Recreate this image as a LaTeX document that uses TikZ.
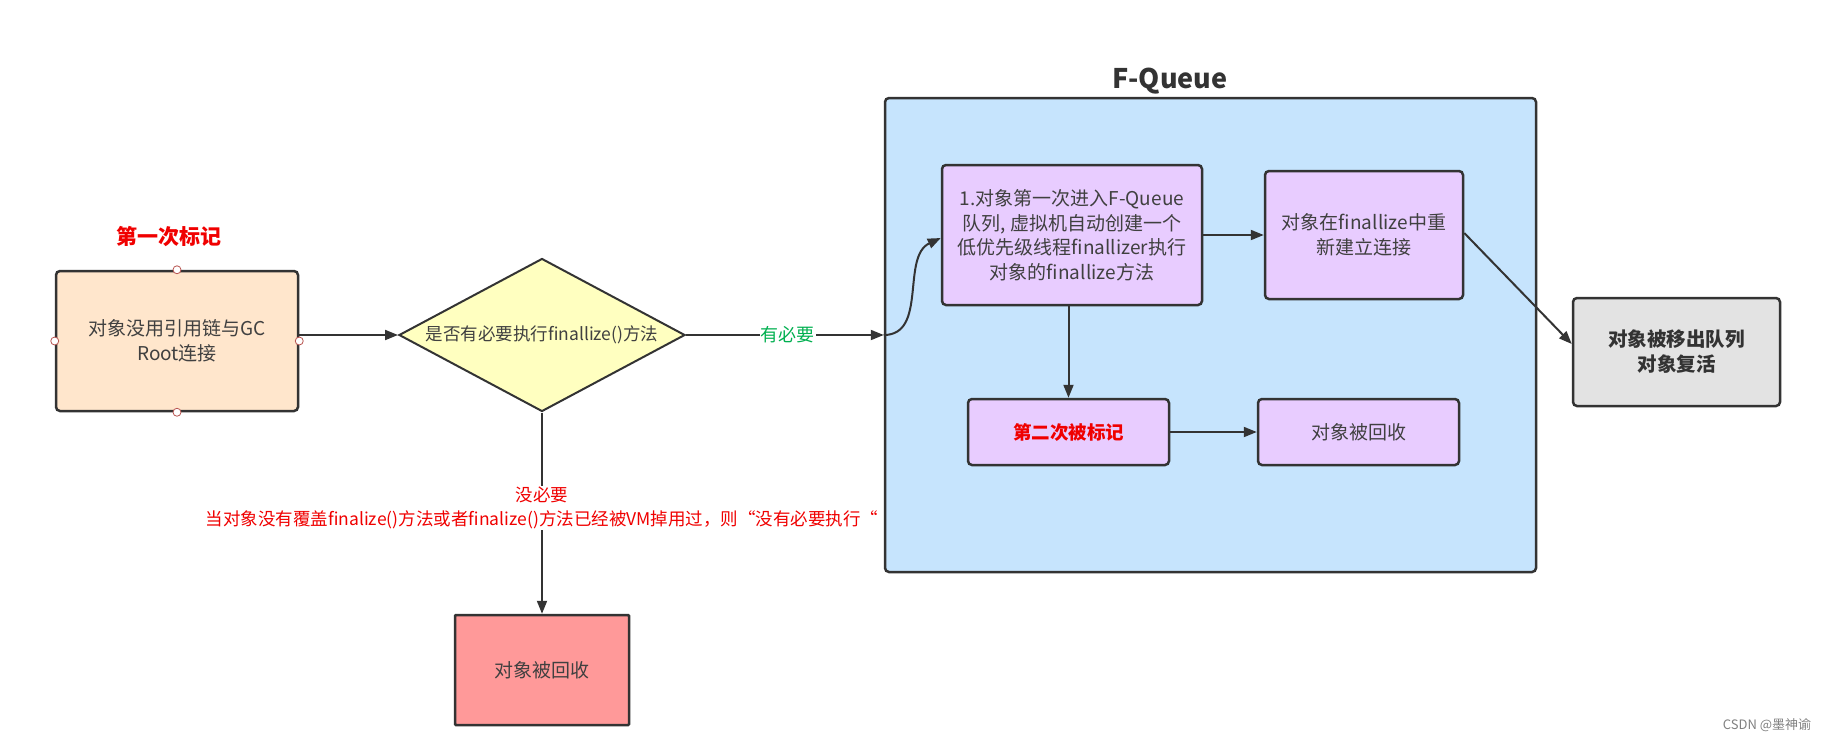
\documentclass[tikz,border=0pt]{standalone}
\usepackage{fontspec}
\setmainfont{Noto Sans CJK SC}
\usetikzlibrary{shapes.geometric,arrows.meta}
\definecolor{edge}{HTML}{333333}
\definecolor{txt}{HTML}{404040}
\definecolor{peach}{HTML}{FFE6CC}
\definecolor{lemon}{HTML}{FFFFC0}
\definecolor{fqblue}{HTML}{C6E4FD}
\definecolor{lilac}{HTML}{E8CCFF}
\definecolor{ashgray}{HTML}{E3E3E3}
\definecolor{salmon}{HTML}{FF9999}
\definecolor{mark}{HTML}{F00000}
\definecolor{yes}{HTML}{00B050}
\definecolor{handle}{HTML}{B85450}

\begin{document}
\begin{tikzpicture}
[x=1pt,y=-1pt,%
  every node/.style={font=\fontsize{19}{24.5}\selectfont,text=txt,align=center},%
  box/.style={rectangle,rounded corners=4pt,draw=edge,line width=2.5pt},%
  link/.style={draw=edge,line width=2pt,-{Triangle[length=13pt,width=10pt]}},%
  handle/.style={circle,draw=handle,fill=white,line width=0.8pt,inner sep=0pt,minimum size=8pt}]
\useasboundingbox (0,0) rectangle (1824,740);
\node[box,fill=fqblue,minimum width=651pt,minimum height=474pt] (fq) at (1210.5,335) {};
\node[text=edge,font=\fontsize{27}{30}\selectfont\bfseries] (fqtitle) at (1170,81) {F-Queue};
\node[text=mark,font=\fontsize{21}{24}\selectfont\bfseries] (mark1) at (169,237) {第一次标记};
\node[box,fill=peach,minimum width=242pt,minimum height=140pt] (src) at (177,341)
  {对象没用引用链与GC\\Root连接};
\foreach \a in {north,south,east,west}
  \node[handle] (h-\a) at (src.\a) {};
\node[diamond,draw=edge,line width=2pt,fill=lemon,inner sep=0pt,aspect=1.87,%
  minimum width=286pt,minimum height=153pt,font=\fontsize{17.5}{22}\selectfont] (dia) at (542,335)
  {是否有必要执行finallize()方法};
\node[box,rounded corners=1pt,fill=salmon,minimum width=174pt,minimum height=110pt] (drop) at (542,670)
  {对象被回收};
\node[box,fill=lilac,minimum width=260pt,minimum height=140pt] (first) at (1072,235)
  {1.对象第一次进入F-Queue\\队列, 虚拟机自动创建一个\\低优先级线程finallizer执行\\对象的finallize方法};
\node[box,fill=lilac,minimum width=198pt,minimum height=128pt] (relink) at (1364,235)
  {对象在finallize中重\\新建立连接};
\node[box,fill=lilac,minimum width=201pt,minimum height=66pt,text=mark,%
  font=\fontsize{18.5}{24}\selectfont\bfseries] (mark2) at (1068.5,432) {第二次被标记};
\node[box,fill=lilac,minimum width=201pt,minimum height=66pt] (gone) at (1358.5,432) {对象被回收};
\node[box,fill=ashgray,minimum width=207pt,minimum height=108pt,text=edge,%
  font=\fontsize{19.5}{25}\selectfont\bfseries] (revive) at (1676.5,352) {对象被移出队列\\对象复活};
\node[text=gray,font=\fontsize{13}{15}\selectfont] (csdn) at (1767,725) {CSDN @墨神谕};
\draw[link] (src.east |- dia.west) -- (dia.west);
\draw[link] (dia.east) -- (fq.west)
  node[pos=0.515,fill=white,inner sep=1pt,text=yes,font=\fontsize{18}{22}\selectfont] (yeslbl) {有必要};
\draw[link] (fq.west) to[out=0,in=205] ([yshift=-3pt]first.west);
\draw[link] (dia.south) -- (drop.north)
  node[pos=0.475,fill=white,inner sep=1pt,text=mark,font=\fontsize{17.5}{24}\selectfont] (nolbl)
  {没必要\\当对象没有覆盖finalize()方法或者finalize()方法已经被VM掉用过，则“没有必要执行“};
\draw[link] (first) -- (relink);
\draw[link] (mark2.north |- first.south) -- (mark2.north);
\draw[link] (mark2) -- (gone);
\draw[link] ([yshift=2pt]relink.east) -- ([yshift=8pt]revive.west);
\end{tikzpicture}
\end{document}
